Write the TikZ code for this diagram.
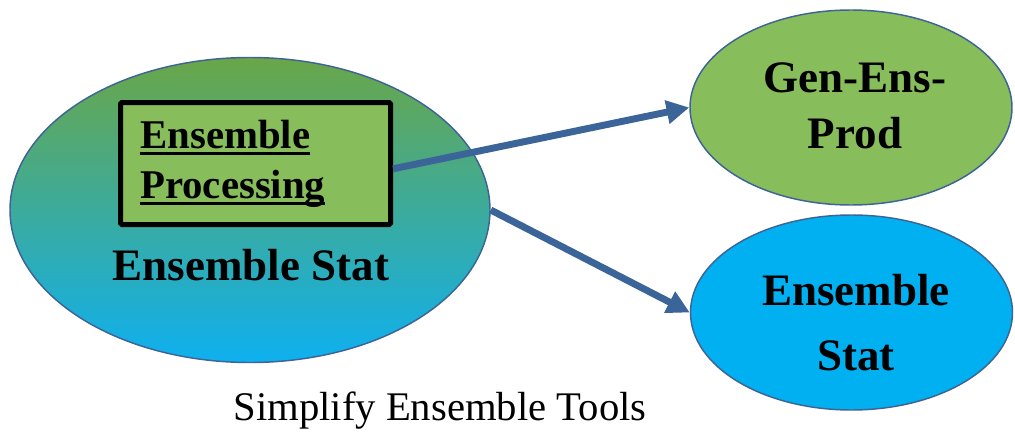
\documentclass[tikz,border=0pt]{standalone}
\usepackage{fontspec}
\setmainfont{Liberation Serif}
\usetikzlibrary{shapes.geometric,arrows.meta}
\definecolor{edgeblue}{RGB}{62,100,150}
\definecolor{arrowblue}{RGB}{59,100,152}
\definecolor{leafgreen}{RGB}{135,189,90}
\definecolor{skyblue}{RGB}{0,176,240}
\definecolor{topgreen}{RGB}{106,166,72}
\definecolor{botblue}{RGB}{14,176,240}
\newcommand{\myul}[1]{\setbox0\hbox{#1}\rlap{\rule[-5pt]{\wd0}{2.2pt}}\box0}
\tikzset{
  oval/.style={ellipse, draw=edgeblue, line width=1.1pt, inner sep=0pt},
  bigfont/.style={font=\fontsize{33.75}{40}\selectfont\bfseries},
  boxfont/.style={font=\fontsize{30.6}{36}\selectfont\bfseries},
  lbl/.style={inner sep=0pt, anchor=base},
  conn/.style={draw=arrowblue, line width=5.2pt, -{Triangle[length=17pt,width=17pt]}}
}
\begin{document}
\begin{tikzpicture}[x=0.75pt,y=-0.75pt]
\useasboundingbox (0,0) rectangle (1015,432);
% big ellipse
\node[oval, minimum width=360pt, minimum height=228.75pt, top color=topgreen, bottom color=botblue] (big) at (250,210) {};
% inner box
\node[rectangle, draw=black, line width=3.75pt, fill=leafgreen, rounded corners=1pt, minimum width=202.5pt, minimum height=91.5pt, inner sep=0pt] (box) at (255.5,163.5) {};
\node[lbl, anchor=base west, boxfont] (t1) at (140,148) {\myul{Ensemble}};
\node[lbl, anchor=base west, boxfont] (t2) at (140,198) {\myul{Processing}};
\node[lbl, bigfont] (t3) at (251,280) {Ensemble Stat};
% right ellipses
\node[oval, fill=leafgreen, minimum width=241.5pt, minimum height=146.25pt] (gen) at (851,107.5) {};
\node[lbl, bigfont] (g1) at (855,92) {Gen-Ens-};
\node[lbl, bigfont] (g2) at (855,148) {Prod};
\node[oval, fill=skyblue, minimum width=241.5pt, minimum height=146.25pt] (stat) at (851.5,312.5) {};
\node[lbl, bigfont] (s1) at (856,305) {Ensemble};
\node[lbl, bigfont] (s2) at (856,370) {Stat};
% arrows
\draw[conn] ([yshift=-4pt]box.east) -- (gen.west);
\draw[conn] (big.east) -- (stat.west);
% caption
\node[lbl, font=\fontsize{30.5}{36}\selectfont] (cap) at (440,420) {Simplify Ensemble Tools};
\end{tikzpicture}
\end{document}
